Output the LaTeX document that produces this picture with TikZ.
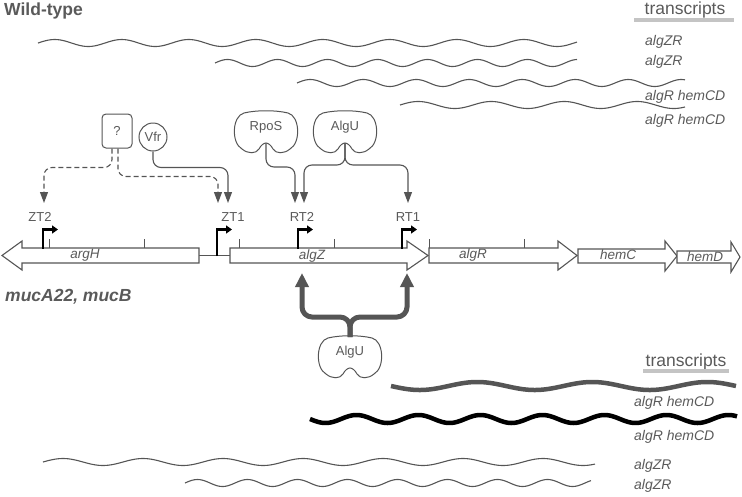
\documentclass[tikz,border=0pt]{standalone}
\usepackage{fontspec}
\setmainfont{Liberation Sans}
\usetikzlibrary{arrows.meta,positioning,calc}
\definecolor{ink}{HTML}{555555}
\definecolor{txgray}{HTML}{5A5A5A}
\definecolor{bargray}{HTML}{C4C4C4}

\begin{document}
\begin{tikzpicture}[x=1pt, y=-1pt,
  gene/.style={draw=ink, line width=1.1pt, fill=white, line join=miter},
  tick/.style={draw=ink, line width=0.9pt},
  prom/.style={draw=black, line width=2.6pt, -{Triangle[length=6pt,width=8pt]}},
  reg/.style={draw=ink, line width=1.1pt, rounded corners=8pt,
              -{Triangle[length=11pt,width=8pt]}, fill=none},
  regd/.style={reg, dash pattern=on 5pt off 3pt},
  big/.style={draw=ink, line width=5pt, rounded corners=10pt,
              -{Triangle[length=14pt,width=13pt]}},
  tx/.style={draw=ink, line width=1.1pt},
  bar/.style={draw=bargray, line width=4pt},
  lbl/.style={text=txgray, font=\fontsize{13}{13}\selectfont, inner sep=0pt},
  genelbl/.style={text=txgray, font=\fontsize{13.5}{13.5}\selectfont\itshape, inner sep=0pt},
  txlbl/.style={text=txgray, font=\fontsize{14}{14}\selectfont\itshape, inner sep=0pt, anchor=west},
  head/.style={text=txgray, font=\fontsize{17.5}{17.5}\selectfont\bfseries, inner sep=0pt, anchor=base west},
  txhead/.style={text=txgray, font=\fontsize{17.5}{17.5}\selectfont, inner sep=0pt, anchor=base},
  sig/.style={draw=ink, line width=1pt, fill=white},
  pics/sigma/.style={code={
    \draw[sig] (-22,-20) .. controls (-10,-23) and (10,-23) .. (22,-20)
      .. controls (34,-17) and (35,10) .. (24,16)
      .. controls (18,21) and (10,21) .. (7,16)
      .. controls (5,12) and (2,10) .. (0,10)
      .. controls (-2,10) and (-5,12) .. (-7,16)
      .. controls (-10,21) and (-18,21) .. (-24,16)
      .. controls (-35,10) and (-34,-17) .. (-22,-20) -- cycle;
    \node[lbl] (-txt) at (0,-6) {#1};
    \coordinate (-notch) at (0,10);
    \coordinate (-top) at (0,-21);
  }},
]
\useasboundingbox (0,0) rectangle (742,496);

% wild-type
\node[head] (wt) at (4,15) {Wild-type};
\node[txhead] (trA) at (685,14) {transcripts};
\draw[bar] (634,20) -- (734,20);

\foreach \ys/\xa/\xb/\per in {43/38/577/67, 63/215/577/50, 83/297/685/53, 105/400/685/73}
  \draw[tx] plot[domain=\xa:\xb, samples=220, smooth] (\x, {\ys - 3.5*sin((360/\per)*(\x-\xa))});

\node[txlbl] (tA1) at (645,42) {algZR};
\node[txlbl] (tA2) at (645,62) {algZR};
\node[txlbl] (tA3) at (645,97) {algR hemCD};
\node[txlbl] (tA4) at (645,121) {algR hemCD};

% regulators
\node[draw=ink, line width=1pt, rounded corners=4pt, minimum width=30pt,
      minimum height=34pt, inner sep=0pt, text=txgray,
      font=\fontsize{13}{13}\selectfont] (q) at (117,131) {?};
\node[draw=ink, line width=1pt, circle, minimum size=28pt, inner sep=0pt,
      text=txgray, font=\fontsize{13}{13}\selectfont] (vfr) at (153,137) {Vfr};
\pic (rpos) at (266,133) {sigma=RpoS};
\pic (algu) at (345,133) {sigma=AlgU};

% promoter labels
\node[lbl] (zt2) at (40,217) {ZT2};
\node[lbl] (zt1) at (233,217) {ZT1};
\node[lbl] (rt2) at (302,217) {RT2};
\node[lbl] (rt1) at (408,217) {RT1};

\coordinate (zt2in) at (44,203);
\coordinate (zt1q) at (218,203);
\coordinate (zt1v) at (228,203);
\coordinate (rt2s) at (295,203);
\coordinate (rt2u) at (304,203);
\coordinate (rt1u) at (408,203);

\draw[regd] ([xshift=-5pt]q.south) -- ++(0,19) -| (zt2in);
\draw[regd] ([xshift=1pt]q.south) -- ++(0,28) -| (zt1q);
\draw[reg] (vfr.south) -- ++(0,16) -| (zt1v);
\draw[reg] (rpos-notch) -- ++(0,24) -| (rt2s);
\draw[reg] (algu-notch) -- ++(0,22) -| (rt2u);
\draw[reg] (algu-notch) -- ++(0,22) -| (rt1u);

% genes
\draw[ink, line width=1.1pt] (199,255.5) -- (230,255.5);
\draw[gene] (2,255.5) -- (22,241) -- (22,248) -- (199,248) -- (199,263) -- (22,263) -- (22,270) -- cycle;
\draw[gene] (230,248) -- (407,248) -- (407,241) -- (428,255.5) -- (407,270) -- (407,263) -- (230,263) -- cycle;
\draw[gene] (429,248) -- (558,248) -- (558,241) -- (577,255.5) -- (558,270) -- (558,263) -- (429,263) -- cycle;
\draw[gene] (578,249) -- (665,249) -- (665,241) -- (677,256) -- (665,271) -- (665,263) -- (578,263) -- cycle;
\draw[gene] (677,251) -- (731,251) -- (731,242) -- (740,257) -- (731,272) -- (731,263) -- (677,263) -- cycle;
\foreach \t in {49,144,239,334,429,524}
  \draw[tick] (\t,239) -- (\t,248);

\node[genelbl] (argH) at (85,255) {argH};
\node[genelbl] (algZ) at (312,256) {algZ};
\node[genelbl] (algR) at (473,255) {algR};
\node[genelbl] (hemC) at (618,255) {hemC};
\node[genelbl] (hemD) at (705,257) {hemD};

% promoters
\coordinate (pZT2) at (43,248.5);
\coordinate (pZT1) at (217,256);
\coordinate (pRT2) at (298,248.5);
\coordinate (pRT1) at (402,248.5);
\foreach \p in {pZT2,pZT1,pRT2,pRT1}
  \draw[prom] (\p) |- ([xshift=15pt, yshift=19pt]\p |- pRT1);

% mucA22, mucB
\node[head] (muc) at (5,301) {\itshape mucA22, mucB};
\pic (algub) at (350,358) {sigma=AlgU};
\coordinate (zup) at (302,273);
\coordinate (rup) at (407,273);
\draw[big] (algub-top) -- ++(0,-20) -| (zup);
\draw[big] (algub-top) -- ++(0,-20) -| (rup);

\node[txhead] (trB) at (686,366) {transcripts};
\draw[bar] (643,371) -- (729,371);
\draw[ink, line width=4.5pt] plot[domain=391:736, samples=220, smooth] (\x, {386 + 4*sin((360/115)*(\x-391))});
\draw[black, line width=4.5pt] plot[domain=310:737, samples=260, smooth] (\x, {419 + 4*sin((360/62)*(\x-310))});
\foreach \ys/\xa/\xb/\per in {462/43/595/80, 483/185/591/50}
  \draw[tx] plot[domain=\xa:\xb, samples=220, smooth] (\x, {\ys - 3.5*sin((360/\per)*(\x-\xa))});

\node[txlbl] (tB1) at (634,403) {algR hemCD};
\node[txlbl] (tB2) at (634,437) {algR hemCD};
\node[txlbl] (tB3) at (634,466) {algZR};
\node[txlbl] (tB4) at (634,486) {algZR};
\end{tikzpicture}
\end{document}
